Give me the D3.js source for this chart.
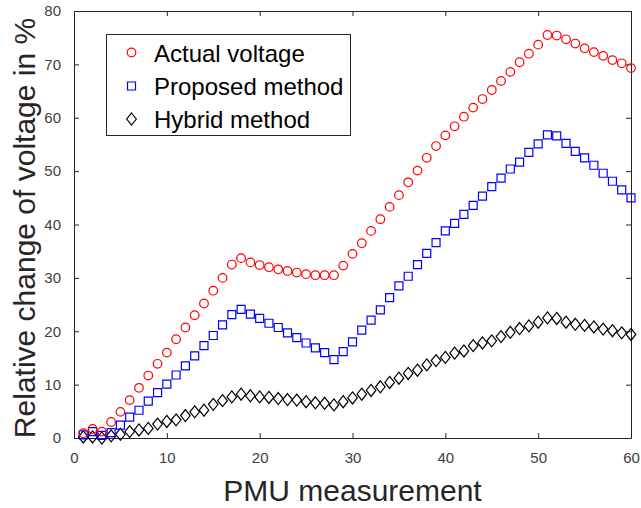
<!DOCTYPE html>
<html>
<head>
<meta charset="utf-8">
<script src="https://cdn.jsdelivr.net/npm/d3@7/dist/d3.min.js"></script>
<style>
  html, body { margin: 0; padding: 0; background: #fff; }
  svg { display: block; }
  text { font-family: "Liberation Sans", Arial, Helvetica, sans-serif; }
</style>
</head>
<body>
<svg id="chart" width="641" height="508"></svg>
<script>
// ---- data ----
const measurements = [1,2,3,4,5,6,7,8,9,10,11,12,13,14,15,16,17,18,19,20,
  21,22,23,24,25,26,27,28,29,30,31,32,33,34,35,36,37,38,39,40,
  41,42,43,44,45,46,47,48,49,50,51,52,53,54,55,56,57,58,59,60];
const actualVoltage = [0.9,1.7,1.2,3.0,4.9,7.1,9.4,11.7,13.9,16.0,
  18.5,20.7,23.0,25.2,27.6,30.0,32.5,33.7,32.9,32.4,
  32.0,31.6,31.3,31.0,30.7,30.5,30.5,30.5,32.3,34.5,
  36.5,38.8,41.0,43.3,45.5,47.9,50.1,52.5,54.7,56.7,
  58.4,60.2,61.9,63.5,65.2,66.9,68.6,70.4,72.0,73.7,
  75.5,75.4,74.7,73.9,73.0,72.3,71.6,70.8,70.2,69.3];
const proposedMethod = [0.6,1.2,0.5,1.0,2.4,3.9,5.2,6.9,8.5,10.1,
  11.8,13.5,15.4,17.3,19.2,21.2,23.1,24.1,23.2,22.4,
  21.5,20.7,19.7,18.8,17.8,16.9,16.0,14.7,16.2,18.0,
  20.2,22.1,24.0,26.3,28.5,30.3,32.5,34.6,36.6,38.8,
  40.2,41.9,43.6,45.3,47.1,48.7,50.4,51.7,53.5,55.1,
  56.8,56.6,55.2,53.7,52.5,51.1,49.6,48.1,46.5,45.0];
const hybridMethod = [0.2,0.2,0.0,0.4,0.7,1.2,1.5,1.8,2.6,3.1,
  3.4,4.2,4.9,5.2,6.3,7.0,7.7,8.2,7.9,7.7,
  7.6,7.4,7.2,7.1,6.8,6.6,6.5,6.2,6.8,7.5,
  8.2,8.9,9.6,10.4,11.2,12.1,12.7,13.7,14.5,15.1,
  15.9,16.3,17.3,17.8,18.2,19.0,19.8,20.5,21.0,21.7,
  22.5,22.4,21.7,21.3,21.1,20.8,20.4,20.1,19.7,19.4];
const xTicks = [0,10,20,30,40,50,60];
const yTicks = [0,10,20,30,40,50,60,70,80];
const seriesNames = ["Actual voltage","Proposed method","Hybrid method"];
const xLabel = "PMU measurement";
const yLabel = "Relative change of voltage in %";

// ---- layout ----
const svg = d3.select("#chart");
const L = 74, R = 631, T = 11, B = 438;
const axisColor = "#262626";
const x = d3.scaleLinear().domain([0, 60]).range([L, R]);
const y = d3.scaleLinear().domain([0, 80]).range([B, T]);

// axes
function styleAxis(g, hideText) {
  g.selectAll(".domain").attr("stroke", axisColor).attr("stroke-width", 1);
  g.selectAll(".tick line").attr("stroke", axisColor).attr("stroke-width", 1);
  g.selectAll(".tick text").attr("fill", "#404040")
    .style("font-family", '"Liberation Sans", Arial, sans-serif')
    .style("font-size", "15px");
  if (hideText) g.selectAll(".tick text").remove();
}
svg.append("g").attr("transform", `translate(0,${B})`)
  .call(d3.axisBottom(x).tickValues(xTicks).tickSizeInner(-5).tickSizeOuter(0).tickPadding(14))
  .call(g => styleAxis(g, false));
svg.append("g").attr("transform", `translate(0,${T})`)
  .call(d3.axisTop(x).tickValues(xTicks).tickSizeInner(-5).tickSizeOuter(0))
  .call(g => styleAxis(g, true));
svg.append("g").attr("transform", `translate(${L},0)`)
  .call(d3.axisLeft(y).tickValues(yTicks).tickSizeInner(-5).tickSizeOuter(0).tickPadding(13))
  .call(g => styleAxis(g, false));
svg.append("g").attr("transform", `translate(${R},0)`)
  .call(d3.axisRight(y).tickValues(yTicks).tickSizeInner(-5).tickSizeOuter(0))
  .call(g => styleAxis(g, true));

// axis labels
svg.append("text").attr("x", (L + R) / 2).attr("y", 501)
  .attr("text-anchor", "middle").attr("fill", axisColor)
  .style("font-size", "30px").text(xLabel);
svg.append("text").attr("transform", `translate(35,228) rotate(-90)`)
  .attr("text-anchor", "middle").attr("fill", axisColor)
  .style("font-size", "30px").text(yLabel);

// markers
const circleSym = d3.symbol().type(d3.symbolCircle).size(Math.PI * 4.3 * 4.3);
function squarePath(s) { return `M${-s},${-s}H${s}V${s}H${-s}Z`; }
function diamondPath(w, h) { return `M0,${-h}L${w},0L0,${h}L${-w},0Z`; }
const markerDefs = [
  { values: actualVoltage, color: "#ff0000", path: () => circleSym() },
  { values: proposedMethod, color: "#0000ff", path: () => squarePath(4) },
  { values: hybridMethod, color: "#000000", path: () => diamondPath(4.8, 6) }
];

const plot = svg.append("g");
markerDefs.slice().reverse().forEach(def => {
  plot.append("g").selectAll("path")
    .data(measurements.map((m, i) => [m, def.values[i]]))
    .join("path")
    .attr("transform", d => `translate(${x(d[0])},${y(d[1])})`)
    .attr("d", def.path())
    .attr("fill", "none")
    .attr("stroke", def.color)
    .attr("stroke-width", 1.2);
});

// legend
const lg = svg.append("g");
lg.append("rect").attr("x", 106.5).attr("y", 34.5).attr("width", 244).attr("height", 101)
  .attr("fill", "#fff").attr("stroke", axisColor).attr("stroke-width", 1);
const rowsY = [52.5, 86, 119];
markerDefs.forEach((def, i) => {
  lg.append("path").attr("transform", `translate(131.5,${rowsY[i]})`)
    .attr("d", def.path()).attr("fill", "none")
    .attr("stroke", def.color).attr("stroke-width", 1.2);
  lg.append("text").attr("x", 154).attr("y", rowsY[i] + 9)
    .attr("fill", "#000").style("font-size", "24px").text(seriesNames[i]);
});
</script>
</body>
</html>
